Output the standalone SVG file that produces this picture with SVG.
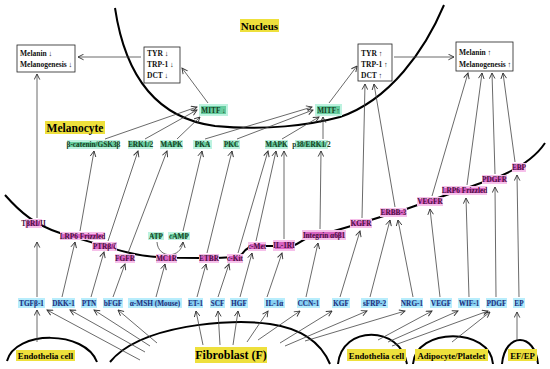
<svg xmlns="http://www.w3.org/2000/svg" width="550" height="369" viewBox="0 0 550 369">
<defs>
<marker id="ah" viewBox="0 0 10 10" refX="9" refY="5" markerWidth="7" markerHeight="7" orient="auto" markerUnits="userSpaceOnUse">
<path d="M1,1 L9,5 L1,9" fill="none" stroke="#333" stroke-width="1.3"/>
</marker>
<style>
text{font-family:"Liberation Serif","Times New Roman",serif;font-weight:bold;}
.g rect{fill:#66cc9f;stroke:#bdf2df;stroke-width:2;}
.g text{fill:#173f22;font-size:7.3px;text-anchor:middle;}
.p rect{fill:#d863c2;stroke:#f6c0ea;stroke-width:2;}
.p text{fill:#4a0f3f;font-size:7.3px;text-anchor:middle;}
.b rect{fill:#86d0f2;stroke:#b8edfc;stroke-width:2;}
.b text{fill:#1f2e7a;font-size:7.3px;text-anchor:middle;}
.y rect{fill:#eee03c;}
.y text{fill:#000;text-anchor:middle;}
.w rect{fill:#fff;stroke:#222;stroke-width:0.8;}
.w text{fill:#111;font-size:7.5px;}
.cv{fill:none;stroke:#000;stroke-width:2;}
#connectors line,#connectors path{stroke:#444;stroke-width:0.8;fill:none;marker-end:url(#ah);}
</style>
</defs>
<rect width="550" height="369" fill="#fff"/>

<g id="curves">
<path class="cv" d="M115,8 C125,75 155,118 215,126 C265,131 310,125 340,117 C390,100 425,50 444,5"/>
<path class="cv" stroke-width="1.8" d="M5,195 C20,212 35,225 60,233 C85,240 105,247 130,253 C150,258 175,258 200,258 C220,258 235,258 242,254 C246,248 250,246 260,246 L290,246 C298,246 300,240 310,237 C335,232 370,220 400,211 C430,201 460,190 490,180 C515,171 535,158 545,143"/>
<path class="cv" d="M7,361 C15,330 85,330 97,362"/>
<path class="cv" d="M110,362 C140,325 230,318 270,324 C305,329 322,345 330,364"/>
<path class="cv" d="M338,364 C342,325 400,325 407,364"/>
<path class="cv" d="M413,364 C416,327 490,327 493,364"/>
<path class="cv" d="M502,364 C505,332 535,332 538,364"/>
</g>

<g id="connectors">
<line x1="141" y1="57" x2="78" y2="57"/>
<line x1="208" y1="103" x2="182" y2="68"/>
<line x1="394" y1="57" x2="454" y2="57"/>
<line x1="329" y1="103" x2="357" y2="66"/>
<line x1="362" y1="218" x2="365" y2="84"/>
<line x1="395" y1="207" x2="374" y2="84"/>
<line x1="432" y1="196" x2="468" y2="73"/>
<line x1="467" y1="185" x2="482" y2="73"/>
<line x1="495" y1="174" x2="492" y2="73"/>
<line x1="515" y1="162" x2="503" y2="73"/>
<line x1="37" y1="218" x2="37" y2="74"/>
<line x1="105" y1="139" x2="197" y2="107"/>
<line x1="145" y1="139" x2="197" y2="110"/>
<line x1="177" y1="139" x2="200" y2="117"/>
<line x1="205" y1="139" x2="312" y2="107"/>
<line x1="237" y1="139" x2="313" y2="110"/>
<line x1="282" y1="139" x2="319" y2="117"/>
<line x1="323" y1="139" x2="323" y2="117"/>
<line x1="80" y1="231" x2="94" y2="151"/>
<line x1="108" y1="241" x2="138" y2="151"/>
<line x1="128" y1="253" x2="167" y2="151"/>
<line x1="183" y1="231" x2="202" y2="151"/>
<line x1="207" y1="253" x2="232" y2="151"/>
<line x1="238" y1="253" x2="268" y2="151"/>
<line x1="256" y1="241" x2="276" y2="151"/>
<line x1="284" y1="239" x2="284" y2="151"/>
<line x1="320" y1="229" x2="321" y2="151"/>
<path d="M157,242 C158,259 181,259 183,242"/>
<line x1="37" y1="297" x2="37" y2="242"/>
<line x1="62" y1="297" x2="75" y2="242"/>
<line x1="91" y1="297" x2="104" y2="252"/>
<line x1="113" y1="297" x2="125" y2="264"/>
<line x1="156" y1="297" x2="165" y2="264"/>
<line x1="197" y1="297" x2="206" y2="264"/>
<line x1="218" y1="297" x2="229" y2="264"/>
<line x1="240" y1="297" x2="252" y2="253"/>
<line x1="267" y1="297" x2="282" y2="253"/>
<line x1="306" y1="297" x2="318" y2="243"/>
<line x1="340" y1="297" x2="360" y2="231"/>
<line x1="370" y1="297" x2="390" y2="220"/>
<line x1="413" y1="297" x2="398" y2="220"/>
<line x1="440" y1="297" x2="430" y2="209"/>
<line x1="469" y1="297" x2="466" y2="198"/>
<line x1="496" y1="297" x2="495" y2="187"/>
<line x1="519" y1="297" x2="517" y2="175"/>
<line x1="37" y1="342" x2="37" y2="310"/>
<line x1="140" y1="360" x2="47" y2="310"/>
<line x1="145" y1="352" x2="70" y2="310"/>
<line x1="150" y1="346" x2="94" y2="310"/>
<line x1="157" y1="343" x2="118" y2="310"/>
<line x1="203" y1="345" x2="196" y2="311"/>
<line x1="220" y1="345" x2="218" y2="311"/>
<line x1="233" y1="345" x2="238" y2="311"/>
<line x1="247" y1="342" x2="268" y2="311"/>
<line x1="258" y1="340" x2="300" y2="311"/>
<line x1="280" y1="343" x2="332" y2="311"/>
<line x1="285" y1="346" x2="367" y2="311"/>
<line x1="305" y1="341" x2="405" y2="311"/>
<line x1="378" y1="340" x2="432" y2="311"/>
<line x1="388" y1="342" x2="458" y2="311"/>
<line x1="392" y1="346" x2="488" y2="311"/>
<line x1="452" y1="342" x2="490" y2="312"/>
<line x1="517" y1="340" x2="517" y2="312"/>
</g>

<g id="nucleus" class="y"><rect x="240" y="19" width="39" height="13"/><text x="259.5" y="29.5" font-size="11">Nucleus</text></g>
<g id="melanocyte" class="y"><rect x="45" y="121" width="60" height="13"/><text x="75" y="131.5" font-size="11.5">Melanocyte</text></g>

<g id="melanin-down" class="w"><rect x="17" y="45" width="58" height="27"/><text x="20" y="56">Melanin ↓</text><text x="20" y="67">Melanogenesis ↓</text></g>
<g id="tyr-down" class="w"><rect x="144" y="47" width="36" height="36"/><text x="147" y="56">TYR ↓</text><text x="147" y="67">TRP-1 ↓</text><text x="147" y="78">DCT ↓</text></g>
<g id="tyr-up" class="w"><rect x="358" y="44" width="34" height="37"/><text x="361" y="56">TYR ↑</text><text x="361" y="67">TRP-1 ↑</text><text x="361" y="78">DCT ↑</text></g>
<g id="melanin-up" class="w"><rect x="456" y="42" width="57" height="29"/><text x="459" y="55">Melanin ↑</text><text x="459" y="67">Melanogenesis ↑</text></g>

<g id="mitf-down" class="g"><rect x="200" y="105" width="27" height="10"/><text x="213.5" y="112.5">MITF ↓</text></g>
<g id="mitf-up" class="g"><rect x="316" y="105" width="25" height="10"/><text x="328.5" y="112.5">MITF↑</text></g>
<g id="bcatenin" class="g"><rect x="68" y="141" width="51" height="7"/><text x="93.5" y="147">β-catenin/GSK3β</text></g>
<g id="erk12" class="g"><rect x="129" y="141" width="23" height="7"/><text x="140.5" y="147">ERK1/2</text></g>
<g id="mapk1" class="g"><rect x="161" y="141" width="21" height="7"/><text x="171.5" y="147">MAPK</text></g>
<g id="pka" class="g"><rect x="194" y="141" width="17" height="7"/><text x="202.5" y="147">PKA</text></g>
<g id="pkc" class="g"><rect x="224" y="141" width="15" height="7"/><text x="231.5" y="147">PKC</text></g>
<g id="mapk2" class="g"><rect x="266" y="141" width="21" height="7"/><text x="276.5" y="147">MAPK</text></g>
<g id="p38" class="g"><rect x="296" y="141" width="31" height="7"/><text x="311.5" y="147">p38/ERK1/2</text></g>
<g id="atp" class="g"><rect x="149" y="233" width="14" height="6"/><text x="156" y="238.5">ATP</text></g>
<g id="camp" class="g"><rect x="169" y="233" width="20" height="6"/><text x="179" y="238.5">cAMP</text></g>

<g id="tbr" class="p"><rect x="26" y="220" width="15" height="7"/><text x="33.5" y="226">TβRI/II</text></g>
<g id="lrp6a" class="p"><rect x="61" y="233" width="43" height="6"/><text x="82.5" y="238.5">LRP6 Frizzled</text></g>
<g id="ptr" class="p"><rect x="93" y="243" width="23" height="7"/><text x="104.5" y="249">PTRβ/ζ</text></g>
<g id="fgfr" class="p"><rect x="116" y="255" width="18" height="7"/><text x="125" y="261">FGFR</text></g>
<g id="mc1r" class="p"><rect x="157" y="255" width="19" height="7"/><text x="166.5" y="261">MC1R</text></g>
<g id="etbr" class="p"><rect x="200" y="255" width="18" height="7"/><text x="209" y="261">ETBR</text></g>
<g id="ckit" class="p"><rect x="228" y="255" width="14" height="7"/><text x="235" y="261">c-Kit</text></g>
<g id="cmet" class="p"><rect x="249" y="243" width="16" height="7"/><text x="257" y="249">c-Met</text></g>
<g id="il1r" class="p"><rect x="274" y="241" width="20" height="9"/><text x="284" y="248">IL-1RI</text></g>
<g id="integrin" class="p"><rect x="303" y="231" width="42" height="8"/><text x="324" y="237.5">Integrin α6β1</text></g>
<g id="kgfr" class="p"><rect x="351" y="220" width="20" height="7"/><text x="361" y="226">KGFR</text></g>
<g id="erbb3" class="p"><rect x="381" y="209" width="25" height="7"/><text x="393.5" y="215">ERBB-3</text></g>
<g id="vegfr" class="p"><rect x="418" y="198" width="24" height="7"/><text x="430" y="204">VEGFR</text></g>
<g id="lrp6b" class="p"><rect x="443" y="187" width="43" height="7"/><text x="464.5" y="193">LRP6 Frizzled</text></g>
<g id="pdgfr" class="p"><rect x="483" y="176" width="23" height="7"/><text x="494.5" y="182">PDGFR</text></g>
<g id="ebp" class="p"><rect x="513" y="164" width="12" height="7"/><text x="519" y="170">EBP</text></g>

<g id="tgfb1" class="b"><rect x="19" y="299" width="25" height="8"/><text x="31.5" y="305.5">TGFβ-1</text></g>
<g id="dkk1" class="b"><rect x="53" y="299" width="21" height="8"/><text x="63.5" y="305.5">DKK-1</text></g>
<g id="ptn" class="b"><rect x="82" y="299" width="14" height="8"/><text x="89" y="305.5">PTN</text></g>
<g id="bfgf" class="b"><rect x="104" y="299" width="18" height="8"/><text x="113" y="305.5">bFGF</text></g>
<g id="amsh" class="b"><rect x="129" y="299" width="52" height="8"/><text x="155" y="305.5">α-MSH (Mouse)</text></g>
<g id="et1" class="b"><rect x="189" y="299" width="13" height="8"/><text x="195.5" y="305.5">ET-1</text></g>
<g id="scf" class="b"><rect x="211" y="299" width="13" height="8"/><text x="217.5" y="305.5">SCF</text></g>
<g id="hgf" class="b"><rect x="231" y="299" width="16" height="8"/><text x="239" y="305.5">HGF</text></g>
<g id="il1a" class="b"><rect x="265" y="299" width="19" height="8"/><text x="274.5" y="305.5">IL-1α</text></g>
<g id="ccn1" class="b"><rect x="298" y="299" width="21" height="8"/><text x="308.5" y="305.5">CCN-1</text></g>
<g id="kgf" class="b"><rect x="333" y="299" width="16" height="8"/><text x="341" y="305.5">KGF</text></g>
<g id="sfrp2" class="b"><rect x="362" y="299" width="25" height="8"/><text x="374.5" y="305.5">sFRP-2</text></g>
<g id="nrg1" class="b"><rect x="402" y="299" width="20" height="8"/><text x="412" y="305.5">NRG-1</text></g>
<g id="vegf" class="b"><rect x="431" y="299" width="20" height="8"/><text x="441" y="305.5">VEGF</text></g>
<g id="wif1" class="b"><rect x="459" y="299" width="20" height="8"/><text x="469" y="305.5">WIF-1</text></g>
<g id="pdgf" class="b"><rect x="487" y="299" width="19" height="8"/><text x="496.5" y="305.5">PDGF</text></g>
<g id="ep" class="b"><rect x="514" y="299" width="10" height="8"/><text x="519" y="305.5">EP</text></g>

<g id="endothelia-left" class="y"><rect x="16" y="350" width="59" height="11"/><text x="45.5" y="359" font-size="8.7">Endothelia cell</text></g>
<g id="fibroblast" class="y"><rect x="195" y="347" width="72" height="16"/><text x="231" y="359" font-size="12">Fibroblast (F)</text></g>
<g id="endothelia-right" class="y"><rect x="347" y="349" width="59" height="12"/><text x="376.5" y="358.5" font-size="8.7">Endothelia cell</text></g>
<g id="adipocyte" class="y"><rect x="415" y="349" width="73" height="12"/><text x="451.5" y="358.5" font-size="8.7">Adipocyte/Platelet</text></g>
<g id="efep" class="y"><rect x="508" y="349" width="29" height="12"/><text x="522.5" y="358.5" font-size="8.7">EF/EP</text></g>
</svg>
